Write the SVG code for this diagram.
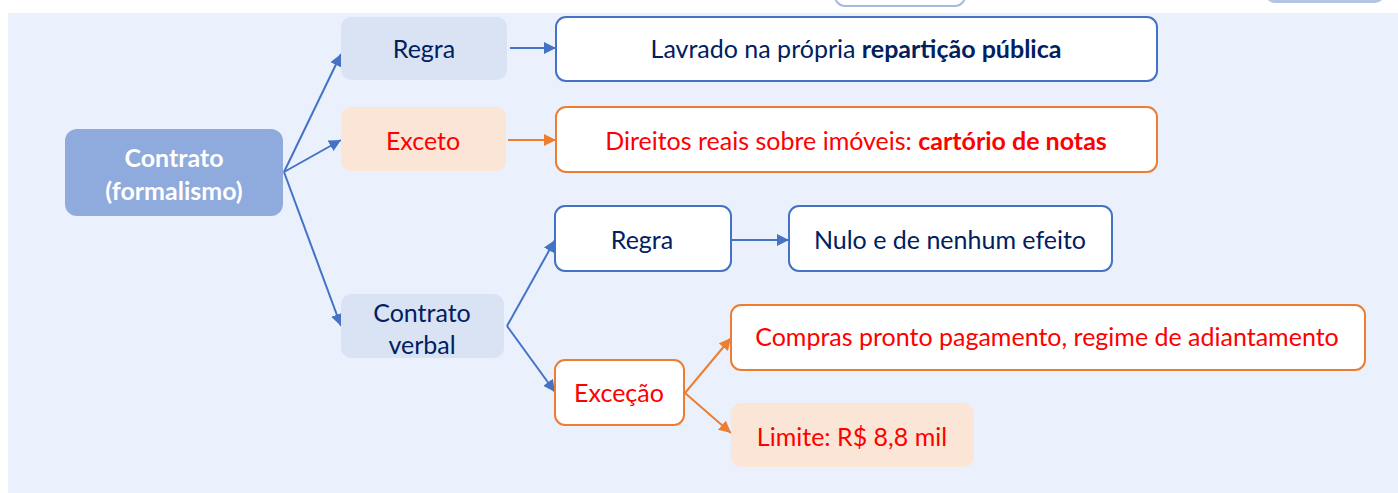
<svg xmlns="http://www.w3.org/2000/svg" width="1398" height="493" viewBox="0 0 1398 493">
<defs>
<style>
text{font-family:Lato,"Liberation Sans",sans-serif;font-size:25px;text-anchor:middle;dominant-baseline:central}
.nv{fill:#002060}
.rd{fill:#ff0000}
.b{font-weight:bold}
.bl{fill:#fff;stroke:#4472c4;stroke-width:2}
.or{fill:#fff;stroke:#ed7d31;stroke-width:2}
.lb{fill:#dae3f3}
.lo{fill:#fbe5d6}
.cb{stroke:#4472c4;stroke-width:2;fill:none;marker-end:url(#ab)}
.co{stroke:#ed7d31;stroke-width:2;fill:none;marker-end:url(#ao)}
</style>
<marker id="ab" markerUnits="userSpaceOnUse" markerWidth="14" markerHeight="12" refX="12" refY="6" orient="auto"><path d="M0,0 L12,6 L0,12 Z" fill="#4472c4"/></marker>
<marker id="ao" markerUnits="userSpaceOnUse" markerWidth="14" markerHeight="12" refX="12" refY="6" orient="auto"><path d="M0,0 L12,6 L0,12 Z" fill="#ed7d31"/></marker>
</defs>
<rect x="0" y="0" width="1398" height="493" fill="#fff"/>
<rect x="8" y="13" width="1390" height="480" fill="#eaf1fd"/>
<rect x="835" y="-20" width="130" height="26" rx="10" fill="#fff" stroke="#a9b9dc" stroke-width="2"/>
<rect x="1265" y="-20" width="120" height="23" rx="10" fill="#b4c4e4"/>
<g id="connectors">
<path class="cb" d="M284,172 L341,54"/>
<path class="cb" d="M284,172 L341,140"/>
<path class="cb" d="M284,172 L341,326"/>
<path class="cb" d="M510,48 L556,48"/>
<path class="co" d="M508,140 L556,140"/>
<path class="cb" d="M507,326 L555,240"/>
<path class="cb" d="M507,326 L555,392"/>
<path class="cb" d="M731,240 L789,240"/>
<path class="co" d="M685,393 L731,338"/>
<path class="co" d="M685,393 L731,433"/>
</g>
<g id="contrato">
<rect x="65" y="129" width="218" height="87" rx="12" fill="#8faadc"/>
<text x="174" y="157" fill="#fff" class="b">Contrato</text>
<text x="174" y="190" fill="#fff" class="b">(formalismo)</text>
</g>
<g id="regra1">
<rect x="341" y="17" width="166" height="63" rx="10" class="lb"/>
<text x="424" y="48" class="nv">Regra</text>
</g>
<g id="lavrado">
<rect x="556" y="17" width="601" height="64" rx="10" class="bl"/>
<text x="856" y="48" class="nv">Lavrado na própria <tspan class="b">repartição pública</tspan></text>
</g>
<g id="exceto">
<rect x="341" y="107" width="165" height="64" rx="10" class="lo"/>
<text x="423" y="140" class="rd">Exceto</text>
</g>
<g id="direitos">
<rect x="556" y="107" width="601" height="65" rx="10" class="or"/>
<text x="856" y="140" class="rd">Direitos reais sobre imóveis: <tspan class="b">cartório de notas</tspan></text>
</g>
<g id="verbal">
<rect x="341" y="294" width="163" height="64" rx="10" class="lb"/>
<text x="422" y="312" class="nv">Contrato</text>
<text x="422" y="344" class="nv">verbal</text>
</g>
<g id="regra2">
<rect x="555" y="206" width="176" height="65" rx="10" class="bl"/>
<text x="642" y="239" class="nv">Regra</text>
</g>
<g id="nulo">
<rect x="789" y="206" width="323" height="65" rx="10" class="bl"/>
<text x="950" y="239" class="nv">Nulo e de nenhum efeito</text>
</g>
<g id="excecao">
<rect x="555" y="360" width="129" height="65" rx="10" class="or"/>
<text x="619" y="392" class="rd">Exceção</text>
</g>
<g id="compras">
<rect x="731" y="305" width="634" height="65" rx="10" class="or"/>
<text x="1047" y="336" class="rd">Compras pronto pagamento, regime de adiantamento</text>
</g>
<g id="limite">
<rect x="731" y="403" width="243" height="64" rx="10" class="lo"/>
<text x="852" y="436" class="rd">Limite: R$ 8,8 mil</text>
</g>
</svg>
